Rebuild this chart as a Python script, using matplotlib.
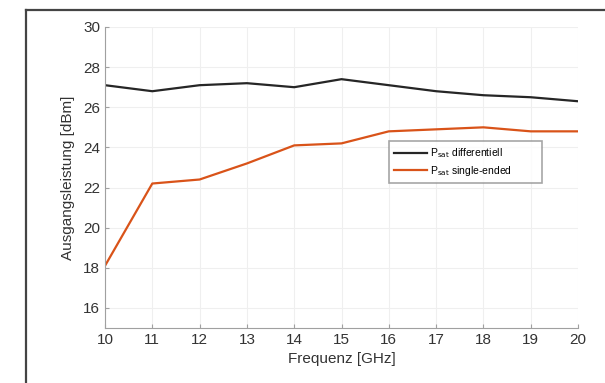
import matplotlib
matplotlib.use('Agg')
import matplotlib.pyplot as plt
from matplotlib.lines import Line2D

plt.rcParams['font.family'] = ['Liberation Sans', 'DejaVu Sans']

freq = [10, 11, 12, 13, 14, 15, 16, 17, 18, 19, 20]
p_diff = [27.1, 26.8, 27.1, 27.2, 27.0, 27.4, 27.1, 26.8, 26.6, 26.5, 26.3]
p_single = [18.1, 22.2, 22.4, 23.2, 24.1, 24.2, 24.8, 24.9, 25.0, 24.8, 24.8]
y_ticks = [16, 18, 20, 22, 24, 26, 28, 30]

fig = plt.figure(figsize=(6.05, 3.83), dpi=100)
ax = fig.add_axes([105 / 605, 1 - 328 / 383, 473 / 605, 301 / 383])

ax.plot(freq, p_diff, color='#262626', lw=1.6, label=r'P$_{\mathrm{sat}}$ differentiell')
ax.plot(freq, p_single, color='#d95319', lw=1.6, label=r'P$_{\mathrm{sat}}$ single-ended')

ax.set_xlim(10, 20)
ax.set_ylim(15, 30)
ax.set_xticks(freq)
ax.set_yticks(y_ticks)
ax.grid(True, color='#efefef', lw=0.8)
ax.set_axisbelow(True)
for s in ['top', 'right']:
    ax.spines[s].set_visible(False)
for s in ['left', 'bottom']:
    ax.spines[s].set_color('#a0a0a0')
ax.tick_params(colors='#a0a0a0', labelcolor='#333333', labelsize=11, length=3, direction='in')
ax.set_xlabel('Frequenz [GHz]', fontsize=11, color='#333333', labelpad=4)
ax.set_ylabel('Ausgangsleistung [dBm]', fontsize=11, color='#333333', labelpad=6)

leg = ax.legend(loc='upper left', bbox_to_anchor=(0.60, 0.50, 0.323, 0.12), mode='expand',
                fontsize=7.5, frameon=True, fancybox=False, handlelength=3.2,
                borderpad=0.5, labelspacing=0.35, handletextpad=0.3, borderaxespad=0)
leg.get_frame().set_edgecolor('#909090')
leg.get_frame().set_linewidth(1.2)

# outer frame lines
fig.add_artist(Line2D([26 / 605, 26 / 605], [0, 1 - 10 / 383], color='#444444', lw=1.6))
fig.add_artist(Line2D([26 / 605, 1], [1 - 10 / 383, 1 - 10 / 383], color='#444444', lw=1.6))

fig.savefig('out.png', dpi=100)
